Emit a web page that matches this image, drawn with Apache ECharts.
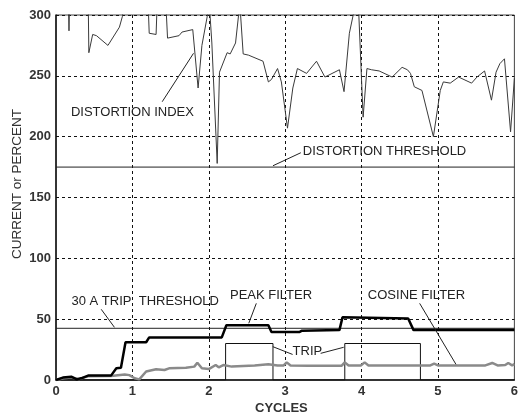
<!DOCTYPE html>
<html>
<head>
<meta charset="utf-8">
<script src="https://cdn.jsdelivr.net/npm/echarts@6/dist/echarts.min.js"></script>
<style>html,body{margin:0;padding:0;background:#fff;}#c{width:521px;height:419px;}</style>
</head>
<body>
<div id="c"></div>
<script>
var xTicks = ['0','1','2','3','4','5','6'];
var yTicks = ['0','50','100','150','200','250','300'];

var distortionIndex = [
 [0.00,320],[0.16,320],[0.17,287],[0.18,320],[0.42,320],[0.43,269],[0.48,284],[0.53,283],
 [0.68,275],[0.83,290],[0.87,299],[0.89,320],[1.20,320],[1.22,285],[1.31,284],[1.33,320],
 [1.43,320],[1.46,281],[1.61,283],[1.65,286],[1.79,288],[1.86,240],[1.91,275],[1.98,299],
 [2.01,306],[2.04,277],[2.11,178],[2.14,253],[2.24,269],[2.28,268],[2.35,277],[2.39,300],
 [2.41,306],[2.45,268],[2.52,267],[2.71,262],[2.78,245],[2.82,247],[2.90,256],[2.95,245],
 [3.03,207],[3.10,240],[3.16,256],[3.28,252],[3.41,262],[3.52,249],[3.71,255],[3.77,237],
 [3.84,285],[3.91,306],[3.96,306],[4.02,216],[4.07,256],[4.13,255],[4.23,254],[4.40,249],
 [4.53,257],[4.60,255],[4.64,252],[4.69,241],[4.79,238],[4.94,200],[5.03,238],[5.07,245],
 [5.16,244],[5.27,249],[5.44,244],[5.51,249],[5.61,254],[5.70,230],[5.76,253],[5.81,260],
 [5.87,264],[5.95,204],[6.00,248]
];
var peakFilter = [
 [0.00,0],[0.09,2],[0.20,2.7],[0.27,0.5],[0.33,1.4],[0.42,3.6],[0.72,3.6],[0.79,9.6],
 [0.85,10],[0.91,31],[1.18,31],[1.22,35],[2.17,35],[2.23,45],[2.78,45],[2.82,39.5],
 [3.19,39.5],[3.22,40.5],[3.71,41],[3.75,51.5],[4.61,50.5],[4.68,41],[6.00,41]
];
var cosineFilter = [
 [0.00,0],[0.10,1.5],[0.20,2],[0.30,0.8],[0.42,3],[0.72,3.3],[0.90,4.5],[0.96,4],
 [1.03,1.4],[1.09,0.5],[1.18,7],[1.31,8.8],[1.42,8.2],[1.48,9.6],[1.70,10],[1.81,11],
 [1.85,14.2],[1.91,9.6],[2.00,9],[2.09,12.3],[2.13,10.4],[2.19,12.3],[2.30,11],[2.45,11.5],
 [2.60,12],[2.78,13],[2.90,12],[2.98,12],[3.02,14.5],[3.07,12],[3.30,11.8],[3.60,11.8],
 [3.74,11.8],[3.78,14.5],[3.83,12],[3.99,12],[4.04,14.5],[4.09,12],[4.50,12],[4.90,12],
 [4.95,13.5],[5.00,12],[5.30,12],[5.62,12],[5.71,14],[5.78,12],[5.88,12.3],[5.92,14],
 [5.97,12],[6.00,13]
];
var trip = [
 [0,0],[2.22,0],[2.22,30],[2.84,30],[2.84,0],[3.78,0],[3.78,30],[4.77,30],[4.77,0],[6,0]
];
var distortionThreshold = [[0,175],[6,175]];
var tripThreshold = [[0,42.5],[6,42.5]];

// annotations: label text, text anchor (data coords), leader lines (data coords)
var annotations = [
 {text:'DISTORTION INDEX', at:[0.195,220.3], lines:[[[1.39,228.7],[1.80,268.5]]]},
 {text:'DISTORTION THRESHOLD', at:[3.23,188.2], lines:[[[3.205,186.8],[2.84,176.1]]]},
 {text:'30 A TRIP  THRESHOLD', at:[0.203,64.4], lines:[[[0.592,58.1],[0.765,43.3]]]},
 {text:'PEAK FILTER', at:[2.277,69.9], lines:[[[2.622,63.0],[2.523,46.6]]]},
 {text:'COSINE FILTER', at:[4.082,69.9], lines:[[[4.76,63.0],[5.235,12.9]]]},
 {text:'TRIP', at:[3.097,23.3], lines:[[[3.097,21.0],[2.838,27.4]],[[3.464,21.9],[3.766,26.9]]]}
];

var FONT = '"Liberation Sans", Arial, sans-serif';
var chart = echarts.init(document.getElementById('c'), null, {renderer:'canvas'});

function lineSeries(data, color, width, z){
  return {type:'line', data:data, showSymbol:false, symbol:'none', clip:true,
          lineStyle:{color:color, width:width}, z:z, animation:false};
}

chart.setOption({
  animation:false,
  backgroundColor:'#fff',
  grid:{left:56, right:2, top:15, bottom:39, show:true, borderColor:'#444', borderWidth:1},
  xAxis:{type:'value', min:0, max:6, interval:1,
    axisLine:{show:true, lineStyle:{color:'#111', width:1.5}},
    axisTick:{show:false},
    axisLabel:{color:'#333', fontFamily:FONT, fontWeight:'bold', fontSize:13, margin:5,
      formatter:function(v){return xTicks[Math.round(v)];}},
    splitLine:{show:true, showMinLine:false, showMaxLine:false, lineStyle:{color:'#111', type:[3,3], width:1}}
  },
  yAxis:{type:'value', min:0, max:300, interval:50,
    axisLine:{show:true, lineStyle:{color:'#111', width:1.5}},
    axisTick:{show:false},
    axisLabel:{color:'#333', fontFamily:FONT, fontWeight:'bold', fontSize:13, margin:5,
      formatter:function(v){return yTicks[Math.round(v/50)];}},
    splitLine:{show:true, showMinLine:false, lineStyle:{color:'#111', type:[3,3], width:1}}
  },
  series:[
    lineSeries(distortionThreshold,'#222',1,2),
    lineSeries(tripThreshold,'#222',1,2),
    lineSeries(distortionIndex,'#3a3a3a',1,3),
    lineSeries(trip,'#111',1,3),
    lineSeries(cosineFilter,'#8a8a8a',2.5,4),
    lineSeries(peakFilter,'#000',2.5,5)
  ]
});

var g = [];
annotations.forEach(function(a){
  var p = chart.convertToPixel({gridIndex:0}, a.at);
  g.push({type:'text', x:p[0], y:p[1], z:10,
    style:{text:a.text, fill:'#222', font:'13px '+FONT, textVerticalAlign:'middle', textAlign:'left'}});
  a.lines.forEach(function(l){
    var p1 = chart.convertToPixel({gridIndex:0}, l[0]);
    var p2 = chart.convertToPixel({gridIndex:0}, l[1]);
    g.push({type:'line', z:10, shape:{x1:p1[0],y1:p1[1],x2:p2[0],y2:p2[1]},
      style:{stroke:'#222', lineWidth:1}});
  });
});
// axis titles
var yMid = chart.convertToPixel({gridIndex:0}, [0,161]);
g.push({type:'text', x:17, y:yMid[1], rotation:Math.PI/2, z:10,
  style:{text:'CURRENT or PERCENT', fill:'#333', font:'13.5px '+FONT, textAlign:'center', textVerticalAlign:'middle'}});
var xMid = chart.convertToPixel({gridIndex:0}, [2.95,0]);
g.push({type:'text', x:xMid[0], y:408, z:10,
  style:{text:'CYCLES', fill:'#333', font:'bold 13px '+FONT, textAlign:'center', textVerticalAlign:'middle'}});
chart.setOption({graphic:g});
</script>
</body>
</html>
